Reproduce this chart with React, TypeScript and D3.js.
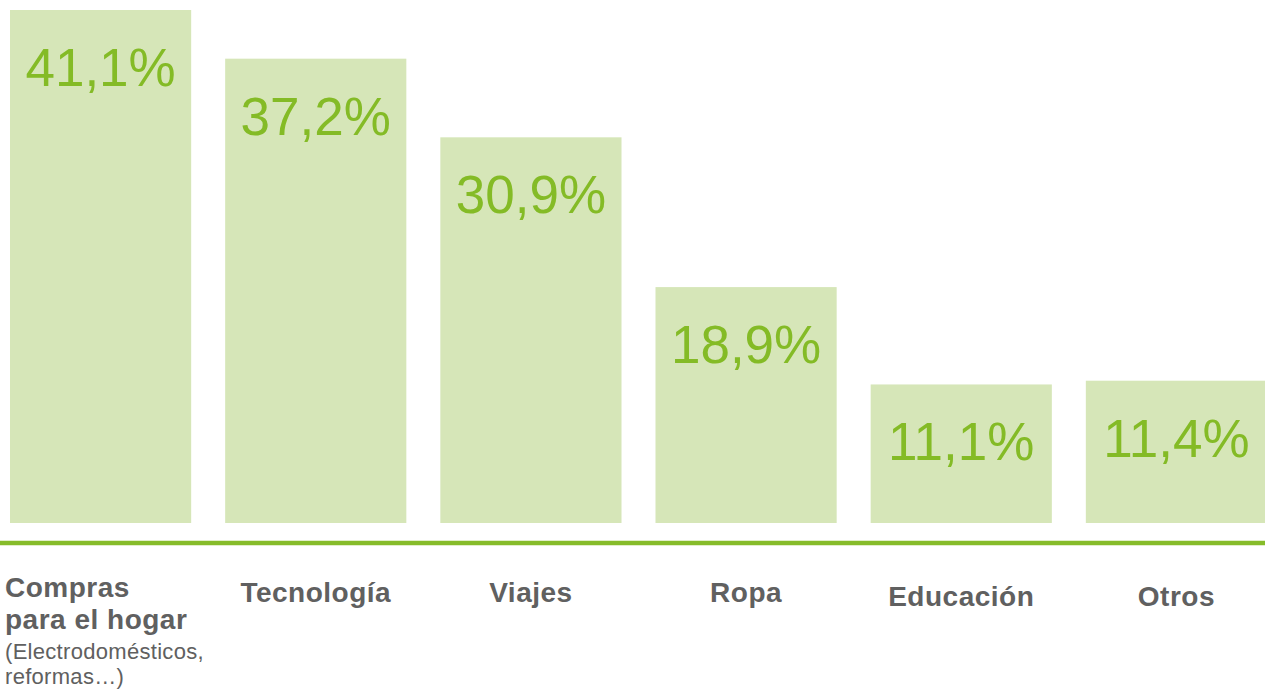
import React, { useEffect, useRef } from 'react';
import * as d3 from 'd3';

// category labels (first one has a bold title over two lines plus a note)
const categories = ['Compras para el hogar', 'Tecnología', 'Viajes', 'Ropa', 'Educación', 'Otros'];
const titleLines = [['Compras', 'para el hogar'], ['Tecnología'], ['Viajes'], ['Ropa'], ['Educación'], ['Otros']];
const noteLines = [['(Electrodomésticos,', 'reformas…)'], [], [], [], [], []];

// share of respondents, %
const shares = [41.1, 37.2, 30.9, 18.9, 11.1, 11.4];

const WIDTH = 1265;
const HEIGHT = 689;

const fmt = (v: number) => v.toFixed(1).replace('.', ',') + '%';

const BarChart = () => {
  const svgRef = useRef<SVGSVGElement | null>(null);

  useEffect(() => {
    if (!svgRef.current) return;
    const svg = d3.select(svgRef.current);
    svg.selectAll('*').remove();

    const baseY = 523;

    const x = d3.scaleBand<string>().domain(categories).range([10, 1267]).paddingInner(0.158).paddingOuter(0);
    const y = d3.scaleLinear().domain([0, 41.1]).range([baseY, 10]);

    const data = categories.map((c, i) => ({ c, v: shares[i], i }));

    // bars
    svg.append('g')
      .selectAll('rect')
      .data(data)
      .enter()
      .append('rect')
      .attr('x', d => x(d.c)!)
      .attr('y', d => y(d.v))
      .attr('width', x.bandwidth())
      .attr('height', d => baseY - y(d.v))
      .style('fill', '#d6e6b8');

    // value labels inside the bars
    svg.append('g')
      .selectAll('text')
      .data(data)
      .enter()
      .append('text')
      .attr('x', d => x(d.c)! + x.bandwidth() / 2)
      .attr('y', d => y(d.v) + 76)
      .attr('text-anchor', 'middle')
      .style('font-family', '"Liberation Sans", Arial, sans-serif')
      .style('font-size', '53px')
      .style('fill', '#84bb26')
      .text(d => fmt(d.v));

    // green base line
    svg.append('line')
      .attr('x1', 0)
      .attr('x2', WIDTH)
      .attr('y1', 543)
      .attr('y2', 543)
      .style('stroke', '#86bc2a')
      .style('stroke-width', 4.5);

    // category labels
    const labels = svg.append('g')
      .style('font-family', '"Liberation Sans", Arial, sans-serif')
      .style('fill', '#606060');

    data.forEach(d => {
      const multi = titleLines[d.i].length > 1;
      const cx = x(d.c)! + x.bandwidth() / 2;
      const t = labels.append('text')
        .attr('text-anchor', multi ? 'start' : 'middle')
        .attr('x', multi ? 5 : cx)
        .attr('y', multi ? 597 : d.i >= 4 ? 606 : 602);
      titleLines[d.i].forEach((line, k) => {
        t.append('tspan')
          .attr('x', multi ? 5 : cx)
          .attr('dy', k === 0 ? 0 : 32)
          .style('font-weight', 'bold')
          .style('font-size', '28px')
          .style('letter-spacing', '0.5px')
          .text(line);
      });
      // note lines as separate texts so they stack cleanly
      noteLines[d.i].forEach((line, k) => {
        labels.append('text')
          .attr('x', 5)
          .attr('y', 659 + k * 25)
          .style('font-size', '22px')
          .style('letter-spacing', '0.3px')
          .text(line);
      });
    });
  }, []);

  return (
    <svg
      ref={svgRef}
      width={WIDTH}
      height={HEIGHT}
      style={{ position: 'absolute', left: 0, top: 0, background: '#fff' }}
    ></svg>
  );
};

export default function App() {
  return <BarChart />;
}
